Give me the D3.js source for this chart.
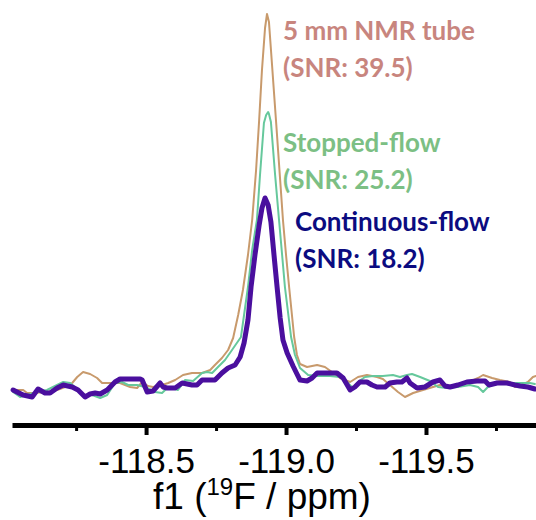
<!DOCTYPE html>
<html>
<head>
<meta charset="utf-8">
<script src="https://cdn.jsdelivr.net/npm/d3@7"></script>
<style>
    body { margin: 0; background: #fff; }
    svg { display: block; }
</style>
</head>
<body>
<div id="container"></div>
<script>
//19F NMR spectra: tube vs stopped-flow vs continuous-flow
(function(){

//chemical shift (ppm) and intensity (a.u.)
var tubePpm = [-118.025, -118.061, -118.075, -118.096, -118.146, -118.182, -118.211, -118.236, -118.254, -118.275,
    -118.300, -118.325, -118.343, -118.379, -118.407, -118.443, -118.468, -118.486, -118.507, -118.525,
    -118.557, -118.579, -118.604, -118.632, -118.664, -118.700, -118.729, -118.746, -118.771, -118.793,
    -118.811, -118.829, -118.846, -118.864, -118.879, -118.893, -118.904, -118.914, -118.925, -118.932,
    -118.939, -118.950, -118.964, -118.979, -118.989, -119.000, -119.011, -119.029, -119.039, -119.050,
    -119.075, -119.111, -119.139, -119.164, -119.193, -119.229, -119.257, -119.289, -119.325, -119.346,
    -119.371, -119.400, -119.425, -119.454, -119.489, -119.525, -119.550, -119.579, -119.611, -119.646,
    -119.686, -119.704, -119.736, -119.764, -119.800, -119.818, -119.843, -119.864, -119.882, -119.893];
var tubeInt = [0, 0, -0.75, -0.75, -0.5, 0, 0.75, 1.75, 3.25, 4.5,
    4, 3, 1.75, 1.75, 1.75, 0.75, 0.5, 2, 1, 0.75,
    1.25, 1.75, 2.5, 3.75, 4.25, 4.25, 5, 6.25, 8, 10,
    13, 18.75, 25, 33.75, 42.5, 55, 67.5, 80, 90.5, 94,
    92, 81.25, 67.5, 52.5, 42.5, 33.75, 25.75, 13.25, 8.75, 6.5,
    5.75, 6.25, 5.75, 4.5, 3, 2, 3.25, 3.75, 3.25, 2.75,
    1.25, -0.5, -1.75, -0.75, 0, 0.75, 1.25, 0.75, 0.75, 1.75,
    3, 3.75, 3, 2.5, 2, 0.75, 1.25, 2, 3.25, 3.5];

var stopPpm = [-118.025, -118.050, -118.075, -118.111, -118.146, -118.182, -118.204, -118.229, -118.257, -118.275,
    -118.307, -118.336, -118.361, -118.389, -118.414, -118.436, -118.468, -118.496, -118.532, -118.557,
    -118.579, -118.614, -118.639, -118.668, -118.700, -118.718, -118.736, -118.757, -118.782, -118.807,
    -118.839, -118.864, -118.879, -118.896, -118.907, -118.921, -118.929, -118.936, -118.939, -118.946,
    -118.961, -118.975, -118.986, -118.996, -119.018, -119.032, -119.050, -119.079, -119.111, -119.157,
    -119.193, -119.221, -119.239, -119.257, -119.282, -119.311, -119.346, -119.382, -119.407, -119.432,
    -119.450, -119.479, -119.514, -119.543, -119.575, -119.614, -119.657, -119.686, -119.704, -119.721,
    -119.754, -119.789, -119.825, -119.846, -119.871, -119.889];
var stopInt = [-0.5, -1.75, -1.25, -0.5, 0, 1.25, 2, 1.75, 0, -1.25,
    -1.25, -2, -1.25, 1.75, 2, 1.25, 1.25, 0.75, -0.5, -0.75,
    0.75, 0, 2.5, 2.25, 4.25, 4.5, 4.25, 5.75, 7.5, 10,
    13.25, 25.75, 35, 42.5, 53.75, 66.75, 68.75, 69.5, 69, 67,
    53.75, 42.5, 33.75, 25.75, 13.25, 8.75, 5.5, 3.75, 3.5, 3.5,
    3.25, 1.75, 0.5, 2, 3.25, 3.5, 3.5, 3.75, 3.25, 3.75,
    4, 3.25, 2.25, 0.75, 0.5, 0.75, 1.25, 0.75, -0.5, 0.75,
    1.75, 1.5, 1.75, 1.75, 1.75, 1.5];

var contPpm = [-118.025, -118.039, -118.061, -118.093, -118.114, -118.139, -118.157, -118.182, -118.204, -118.236,
    -118.257, -118.282, -118.300, -118.318, -118.336, -118.361, -118.389, -118.407, -118.479, -118.486,
    -118.504, -118.525, -118.550, -118.561, -118.575, -118.604, -118.629, -118.664, -118.682, -118.700,
    -118.746, -118.771, -118.793, -118.818, -118.836, -118.850, -118.864, -118.875, -118.889, -118.904,
    -118.914, -118.925, -118.936, -118.946, -118.957, -118.968, -118.979, -118.989, -119.004, -119.025,
    -119.039, -119.050, -119.075, -119.093, -119.111, -119.182, -119.204, -119.229, -119.246, -119.264,
    -119.289, -119.307, -119.325, -119.354, -119.371, -119.396, -119.414, -119.432, -119.443, -119.468,
    -119.496, -119.525, -119.550, -119.568, -119.586, -119.614, -119.646, -119.682, -119.711, -119.725,
    -119.754, -119.789, -119.818, -119.836, -119.864, -119.889];
var contInt = [0, -0.5, -1.25, -1.75, 0.25, -0.75, -0.75, 0.5, 1.25, 0.75,
    0, -1.75, -1, -0.75, -1, 0, 2, 2.75, 2.75, 2.5,
    -0.5, -0.25, 1.75, 0.75, 0.5, 0.5, 1.75, 1.25, 1.25, 2.5,
    2.5, 4.25, 5.5, 6.25, 8.25, 11.75, 17.5, 25.75, 33.75, 41.25,
    45.5, 48, 46.25, 42, 33.75, 25.75, 18, 12.5, 9.25, 6,
    4, 2.5, 2.25, 3, 4.25, 4.25, 3, 0, 0.75, 2,
    2, 1.25, 0.75, 0.75, 1.75, 2, 2, 3, 1.75, 0.5,
    0.75, 2, 2.5, 1, 0.75, 1.25, 2, 2.25, 2.25, 1.25,
    1.75, 1.75, 1.25, 1, 0.75, 0.25];

var majorTicks = [-118.5, -119.0, -119.5];
var minorTicks = [-118.25, -118.75, -119.25, -119.75];

//series: order = drawing order (continuous-flow on top)
var series = [
    {name: "tube", ppm: tubePpm, val: tubeInt, color: "#c89a6c", width: 2},
    {name: "stopped", ppm: stopPpm, val: stopInt, color: "#66c89c", width: 2},
    {name: "continuous", ppm: contPpm, val: contInt, color: "#4a0f9e", width: 5}
];

//labels next to the peak
var labels = [
    {lines: ["5 mm NMR tube", "(SNR: 39.5)"], x: 283, y: 40, color: "#c8857e"},
    {lines: ["Stopped-flow", "(SNR: 25.2)"], x: 283, y: 152, color: "#7cbf84"},
    {lines: ["Continuous-flow", "(SNR: 18.2)"], x: 295, y: 231, color: "#0b0b80"}
];

var width = 536,
    height = 520,
    axisY = 425;

var svg = d3.select("#container")
    .append("svg")
    .attr("width", width)
    .attr("height", height);

//reversed ppm axis, like every NMR plot
var x = d3.scaleLinear()
    .domain([-118.021, -119.893])
    .range([12, 536]);

var y = d3.scaleLinear()
    .domain([-10, 100])
    .range([430, -10]);

var line = d3.line()
    .x(function(d){ return x(d[0]); })
    .y(function(d){ return y(d[1]); });

series.forEach(function(s){
    var pts = s.ppm.map(function(p, i){ return [p, s.val[i]]; });
    svg.append("path")
        .datum(pts)
        .attr("class", "spec " + s.name)
        .attr("d", line)
        .attr("fill", "none")
        .attr("stroke", s.color)
        .attr("stroke-width", s.width)
        .attr("stroke-linejoin", "round")
        .attr("stroke-linecap", "round");
});

//minor ticks first, then major axis on top
var minorAxis = d3.axisBottom(x)
    .tickValues(minorTicks)
    .tickSize(6)
    .tickSizeOuter(0)
    .tickFormat("");

svg.append("g")
    .attr("class", "axis minor")
    .attr("transform", "translate(0," + axisY + ")")
    .call(minorAxis)
    .call(function(g){
        g.select(".domain").remove();
        g.selectAll("line").attr("stroke", "#000").attr("stroke-width", 3);
    });

var xAxis = d3.axisBottom(x)
    .tickValues(majorTicks)
    .tickSize(10)
    .tickSizeOuter(0)
    .tickFormat(function(d){ return d.toFixed(1); });

svg.append("g")
    .attr("class", "axis major")
    .attr("transform", "translate(0," + axisY + ")")
    .call(xAxis)
    .call(function(g){
        g.select(".domain").attr("stroke", "#000").attr("stroke-width", 5);
        g.selectAll("line").attr("stroke", "#000").attr("stroke-width", 4);
        g.selectAll("text")
            .attr("y", 23)
            .attr("fill", "#000")
            .style("font-family", "'Liberation Sans', Arial, sans-serif")
            .style("font-size", "35px");
    });

//axis title
var title = svg.append("text")
    .attr("x", 262)
    .attr("y", 509)
    .attr("text-anchor", "middle")
    .style("font-family", "'Liberation Sans', Arial, sans-serif")
    .style("font-size", "37px")
    .attr("fill", "#000");
title.append("tspan").text("f1 (");
title.append("tspan").attr("dy", -14).style("font-size", "24px").text("19");
title.append("tspan").attr("dy", 14).text("F / ppm)");

//annotations
labels.forEach(function(l){
    var t = svg.append("text")
        .attr("x", l.x)
        .attr("y", l.y)
        .attr("fill", l.color)
        .style("font-family", "Lato, 'Open Sans', sans-serif")
        .style("font-weight", "bold")
        .style("font-size", "26px");
    l.lines.forEach(function(s, i){
        t.append("tspan")
            .attr("x", l.x)
            .attr("dy", i === 0 ? 0 : 36.5)
            .text(s);
    });
});

})();
</script>
</body>
</html>
